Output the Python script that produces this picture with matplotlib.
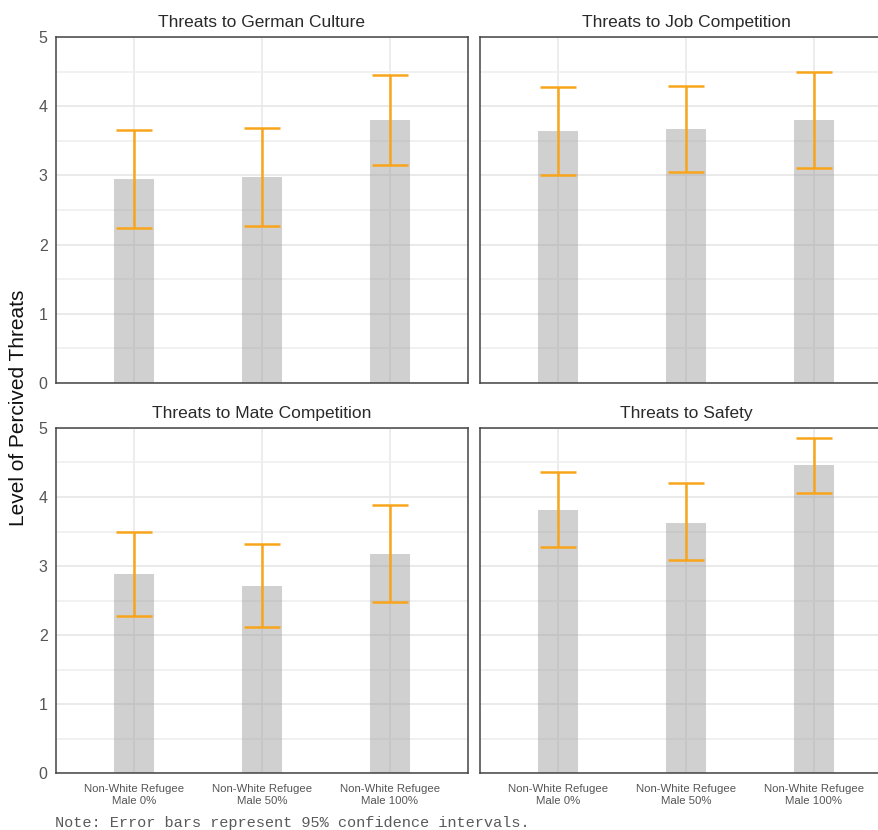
import matplotlib
matplotlib.use("Agg")
import matplotlib.pyplot as plt
import numpy as np

plt.rcParams['font.family'] = ['Liberation Sans', 'DejaVu Sans']

categories = ["Non-White Refugee\nMale 0%", "Non-White Refugee\nMale 50%", "Non-White Refugee\nMale 100%"]
panels = ["Threats to German Culture", "Threats to Job Competition",
          "Threats to Mate Competition", "Threats to Safety"]
means_culture = [2.95, 2.98, 3.80]
low_culture = [2.24, 2.27, 3.15]
high_culture = [3.65, 3.68, 4.45]
means_job = [3.64, 3.67, 3.80]
low_job = [3.00, 3.05, 3.11]
high_job = [4.28, 4.29, 4.49]
means_mate = [2.88, 2.71, 3.17]
low_mate = [2.27, 2.12, 2.48]
high_mate = [3.49, 3.32, 3.88]
means_safety = [3.81, 3.62, 4.46]
low_safety = [3.27, 3.08, 4.06]
high_safety = [4.36, 4.20, 4.86]

data = [(means_culture, low_culture, high_culture),
        (means_job, low_job, high_job),
        (means_mate, low_mate, high_mate),
        (means_safety, low_safety, high_safety)]

W, H = 879, 830
fig = plt.figure(figsize=(W / 100, H / 100), dpi=100)

pw = 412
rects = [(56, 37, pw, 346), (480, 37, pw, 346),
         (56, 428, pw, 345), (480, 428, pw, 345)]

x = np.arange(1, 4)
for i, (rect, title, (m, lo, hi)) in enumerate(zip(rects, panels, data)):
    l, t, w, h = rect
    ax = fig.add_axes([l / W, 1 - (t + h) / H, w / W, h / H])
    ax.set_xlim(0.39, 3.61)
    ax.set_ylim(0, 5)
    ax.set_yticks([0, 1, 2, 3, 4, 5])
    ax.set_yticks([0.5, 1.5, 2.5, 3.5, 4.5], minor=True)
    ax.set_xticks(x)
    ax.grid(True, which='major', axis='y', color='#e8e8e8', lw=1.3, zorder=0)
    ax.grid(True, which='minor', axis='y', color='#f0f0f0', lw=1.3, zorder=0)
    ax.grid(True, which='major', axis='x', color='#ebebeb', lw=1.3, zorder=0)
    ax.set_axisbelow(True)
    ax.bar(x, m, width=0.31, color='#a2a2a2', alpha=0.5, zorder=2)
    m_arr = np.array(m)
    yerr = [m_arr - np.array(lo), np.array(hi) - m_arr]
    ax.errorbar(x, m, yerr=yerr, fmt='none', ecolor='#f8a51b', elinewidth=1.8,
                capsize=13, capthick=1.8, zorder=3)
    ax.set_title(title, fontsize=12.5, color='#2a2a2a', pad=7)
    ax.tick_params(axis='both', which='both', length=0, colors='#555555')
    ax.tick_params(axis='y', labelsize=11.5, pad=6)
    if i in (0, 2):
        ax.set_yticklabels(['0', '1', '2', '3', '4', '5'])
    else:
        ax.set_yticklabels([])
    if i in (2, 3):
        ax.set_xticklabels(categories, fontsize=8.2, color='#555555', linespacing=1.25)
    else:
        ax.set_xticklabels([])
    ax.tick_params(axis='x', pad=8)
    for s in ax.spines.values():
        s.set_color('#444444')
        s.set_linewidth(1.1)

fig.text(19 / W, 1 - 408 / H, "Level of Percived Threats", rotation=90,
         ha='center', va='center', fontsize=15, color='#111111')
fig.text(55 / W, 1 - 823 / H, "Note: Error bars represent 95% confidence intervals.",
         ha='left', va='center', fontsize=11, color='#5a5a5a',
         family=['Liberation Mono', 'DejaVu Sans Mono'])

fig.savefig("out.png", dpi=100)
